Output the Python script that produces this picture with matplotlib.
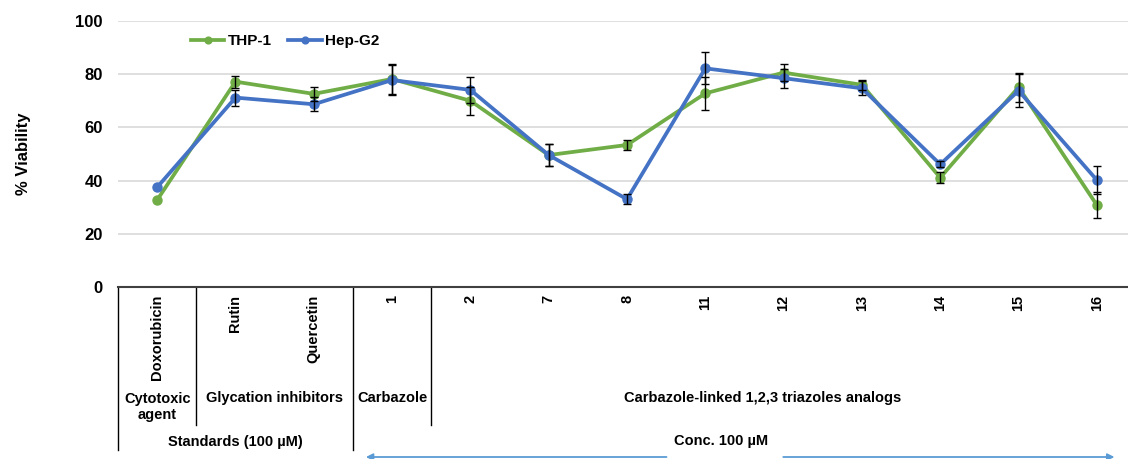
import matplotlib
matplotlib.use("Agg")
import matplotlib.pyplot as plt
import matplotlib.transforms as mtransforms

plt.rcParams["font.family"] = ["Liberation Sans", "DejaVu Sans"]
plt.rcParams["font.weight"] = "bold"

# data (0 = no visible error bar)
compounds = ["Doxorubicin", "Rutin", "Quercetin", "1", "2", "7", "8",
             "11", "12", "13", "14", "15", "16"]
thp1 = [32.7, 77.2, 72.6, 78.2, 70.0, 49.6, 53.4, 72.8, 80.6, 76.0, 41.1, 75.1, 30.8]
thp1_err = [0, 2.3, 2.5, 5.8, 5.3, 4.0, 2.0, 6.3, 3.1, 2.0, 2.0, 5.5, 5.0]
hepg2 = [37.5, 71.2, 68.7, 77.8, 74.1, 49.6, 33.0, 82.2, 78.5, 74.7, 46.1, 73.8, 40.2]
hepg2_err = [0, 3.0, 2.7, 5.7, 5.0, 4.0, 1.8, 6.0, 3.5, 2.7, 1.1, 6.2, 5.4]
yticks = [0, 20, 40, 60, 80, 100]

GREEN = "#70ad47"
BLUE = "#4472c4"
ARROW = "#5b9bd5"

W, H = 1128, 459
fig = plt.figure(figsize=(W / 100, H / 100), dpi=100)
ax = fig.add_axes([118 / W, 172 / H, 1018 / W, 266 / H])

x = list(range(len(compounds)))
ax.plot(x, thp1, color=GREEN, lw=2.7, marker="o", ms=6.5, label="THP-1", zorder=3)
ax.plot(x, hepg2, color=BLUE, lw=2.7, marker="o", ms=6.5, label="Hep-G2", zorder=3)

def draw_err(vals, errs):
    idx = [i for i, e in enumerate(errs) if e > 0]
    ax.errorbar([x[i] for i in idx], [vals[i] for i in idx],
                yerr=[errs[i] for i in idx], fmt="none", ecolor="black",
                elinewidth=1, capsize=3, capthick=1, zorder=4)

draw_err(thp1, thp1_err)
draw_err(hepg2, hepg2_err)

ax.set_xlim(-0.5, len(compounds) - 0.5)
ax.set_ylim(0, 100)
ax.set_yticks(yticks)
ax.tick_params(axis="y", length=0, pad=11, labelsize=12)
ax.set_xticks(x)
ax.set_xticklabels(compounds, rotation=90, fontsize=10.5, fontweight="bold")
ax.tick_params(axis="x", length=0, pad=5.5)
ax.set_ylabel("% Viability", fontsize=12, fontweight="bold", labelpad=32)
ax.grid(axis="y", color="#d9d9d9", lw=1.2)
ax.set_axisbelow(True)
for s in ["top", "right", "left"]:
    ax.spines[s].set_visible(False)
ax.spines["bottom"].set_color("#404040")
ax.spines["bottom"].set_linewidth(1.5)

ax.legend(loc="center left", bbox_to_anchor=(0.058, 0.925), ncol=2,
          frameon=False, fontsize=11, handlelength=2.2, markerscale=0.75,
          columnspacing=1.1, handletextpad=0.2)

# category table below the axis
tr = mtransforms.blended_transform_factory(ax.transData, ax.transAxes)
def fy(py):
    return (287 - py) / 266.0

for xb, yend in [(-0.5, 450), (0.5, 425), (2.5, 450), (3.5, 425)]:
    ax.plot([xb, xb], [0, fy(yend)], color="black", lw=1, transform=tr, clip_on=False)

txt = dict(transform=tr, ha="center", fontsize=10.5, fontweight="bold", clip_on=False)
ax.text(0, fy(407), "Cytotoxic\nagent", va="center", linespacing=1.2, **txt)
ax.text(1.5, fy(398), "Glycation inhibitors", va="center", **txt)
ax.text(3, fy(398), "Carbazole", va="center", **txt)
ax.text(7.73, fy(398), "Carbazole-linked 1,2,3 triazoles analogs", va="center", **txt)
ax.text(1, fy(442), "Standards (100 µM)", va="center", **txt)
ax.text(7.2, fy(441), "Conc. 100 µM", va="center", **txt)

arrow_kw = dict(arrowstyle="-|>", color=ARROW, lw=1.3, mutation_scale=10)
ax.annotate("", xy=(2.63, fy(457)), xytext=(6.54, fy(457)), xycoords=tr,
            textcoords=tr, arrowprops=arrow_kw, annotation_clip=False)
ax.annotate("", xy=(12.26, fy(457)), xytext=(7.96, fy(457)), xycoords=tr,
            textcoords=tr, arrowprops=arrow_kw, annotation_clip=False)

fig.savefig("out.png", dpi=100)
